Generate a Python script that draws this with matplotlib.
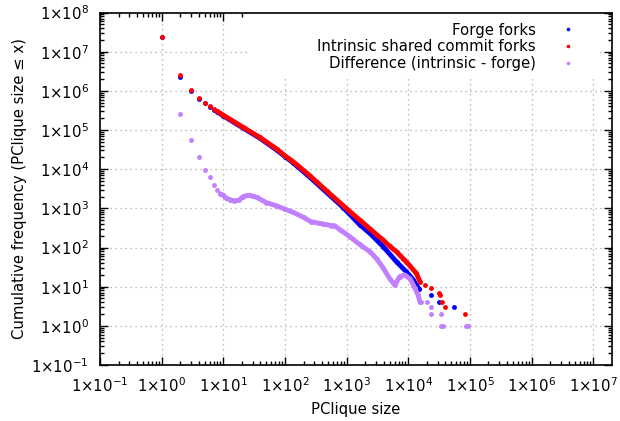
import numpy as np
import matplotlib
matplotlib.use("Agg")
import matplotlib.pyplot as plt
from matplotlib.lines import Line2D
from matplotlib.patches import Rectangle
from matplotlib.ticker import FixedLocator, FuncFormatter, LogLocator, NullFormatter

# ---------------- data ----------------
series_names = ["Forge forks", "Intrinsic shared commit forks", "Difference (intrinsic - forge)"]

forge_x = [1, 2, 3, 4, 5, 6, 7, 8, 10, 21, 39, 73, 100, 136, 254, 473, 881,
           1000, 1640, 2390, 3920, 6460, 9330, 12000, 15100,
           23400, 31600, 55000]
forge_y = [2.4e7, 2.3e6, 1.0e6, 6.3e5, 4.9e5, 3.9e5, 3.3e5, 2.9e5, 2.3e5, 1.12e5, 6.2e4, 3.1e4,
           2.1e4, 1.45e4, 6.2e3, 2.55e3, 1.05e3, 850, 380, 229, 105, 43, 24, 15, 8.5,
           6, 4, 3]

intrinsic_x = [1, 2, 3, 4, 5, 6, 7, 8, 10, 21, 39, 73, 100, 136, 254, 473, 1000,
               1640, 2390, 3060, 3920, 5010, 6460, 8260, 9330, 13500, 15500,
               19000, 23500, 31600, 32400, 35500, 40000, 82000]
intrinsic_y = [2.3e7, 2.55e6, 1.04e6, 6.5e5, 5.0e5, 4.0e5, 3.4e5, 3.0e5, 2.4e5, 1.17e5, 6.5e4,
               3.3e4, 2.2e4, 1.55e4, 6.8e3, 2.8e3, 980, 500, 300, 214, 155, 107, 78,
               52, 43, 22, 13.5,
               11, 9, 7, 6, 4, 3, 2]

diff_x = [2, 3, 4, 5, 6, 7, 8, 9, 10, 11, 13, 15, 18, 21, 25, 29, 35, 50, 72, 100, 135,
          200, 263, 355, 417, 562, 631, 776, 1120, 1620, 2400, 3060, 3920, 5010, 6030,
          7240, 8710, 10700, 12900, 14500, 15500,
          16200, 20400, 23500, 23500, 33500, 34000, 36000, 88000, 92000]
diff_y = [2.6e5, 5.4e4, 2.0e4, 9.8e3, 6.2e3, 4.0e3, 3.0e3, 2.35e3, 2.15e3, 1.85e3, 1.65e3,
          1.55e3, 1.62e3, 2.0e3, 2.15e3, 2.1e3, 1.9e3, 1.4e3, 1.17e3, 950, 795, 590, 457, 417,
          398, 363, 363, 288, 190, 120, 78, 52, 30, 16, 11, 18, 20, 16, 9, 6, 4,
          4, 4, 3, 2, 2, 1, 1, 1, 1]

x_decades = list(range(-1, 8))
y_decades = list(range(-1, 9))

# ---------------- styling ----------------
colors = ["#0000ff", "#ff0000", "#c080ff"]
dense_ranges = [(8, 15100), (8, 15500), (9, 15500)]

plt.rcParams["font.family"] = ["DejaVu Sans"]
plt.rcParams["mathtext.fontset"] = "dejavusans"
FS = 10.7

fig = plt.figure(figsize=(6.2, 4.21), dpi=100)
ax = fig.add_axes([100 / 620, 1 - 365 / 421, 511.7 / 620, 352.5 / 421])
ax.set_xscale("log")
ax.set_yscale("log")
ax.set_xlim(10 ** -1, 10 ** 7.3)
ax.set_ylim(10 ** -1, 10 ** 8)

ms = 3.5
for i, (xs, ys) in enumerate([(forge_x, forge_y), (intrinsic_x, intrinsic_y), (diff_x, diff_y)]):
    xa = np.asarray(xs, dtype=float)
    ya = np.asarray(ys, dtype=float)
    lo, hi = dense_ranges[i]
    m = (xa >= lo) & (xa <= hi)
    ax.plot(xa[m], ya[m], color=colors[i], lw=ms, solid_capstyle="round",
            solid_joinstyle="round", zorder=3 + i)
    ax.plot(xa, ya, ls="none", marker="o", ms=ms, mec="none", mfc=colors[i], zorder=3 + i)

# grid
ax.grid(True, which="major", color="#a8a8a8", ls=(0, (1, 3)), lw=0.9)
ax.set_axisbelow(True)

# white key background (gnuplot style)
ax.add_patch(Rectangle((0.293, 0.814), 0.684, 0.186, transform=ax.transAxes,
                       facecolor="white", edgecolor="none", zorder=2))

# ticks
fmt = FuncFormatter(lambda v, p: r"$1{\times}10^{%d}$" % int(round(np.log10(v))))
ax.xaxis.set_major_locator(FixedLocator([10.0 ** d for d in x_decades]))
ax.yaxis.set_major_locator(FixedLocator([10.0 ** d for d in y_decades]))
ax.xaxis.set_major_formatter(fmt)
ax.yaxis.set_major_formatter(fmt)
ax.xaxis.set_minor_locator(LogLocator(base=10, subs=np.arange(2, 10), numticks=20))
ax.yaxis.set_minor_locator(LogLocator(base=10, subs=np.arange(2, 10), numticks=20))
ax.xaxis.set_minor_formatter(NullFormatter())
ax.yaxis.set_minor_formatter(NullFormatter())
ax.tick_params(which="both", direction="in", top=True, right=True, width=1, colors="black")
ax.tick_params(which="major", length=6, labelsize=FS, pad=8)
ax.tick_params(which="minor", length=3)
for s in ax.spines.values():
    s.set_linewidth(1.2)

ax.set_xlabel("PClique size", fontsize=FS, labelpad=5)
ax.set_ylabel("Cumulative frequency (PClique size \u2264 x)", fontsize=FS, labelpad=3)

handles = [Line2D([], [], ls="none", marker="o", ms=2.6, mec="none", mfc=c) for c in colors]
leg = ax.legend(handles, series_names, loc="upper right", bbox_to_anchor=(0.95, 0.98),
                frameon=False, markerfirst=False, fontsize=FS, handlelength=2.0,
                handletextpad=1.2, labelspacing=0.12, borderpad=0.2, borderaxespad=0)
for t in leg.get_texts():
    t.set_ha("right")
leg._legend_box.align = "right"

fig.savefig("out.png", dpi=100)
